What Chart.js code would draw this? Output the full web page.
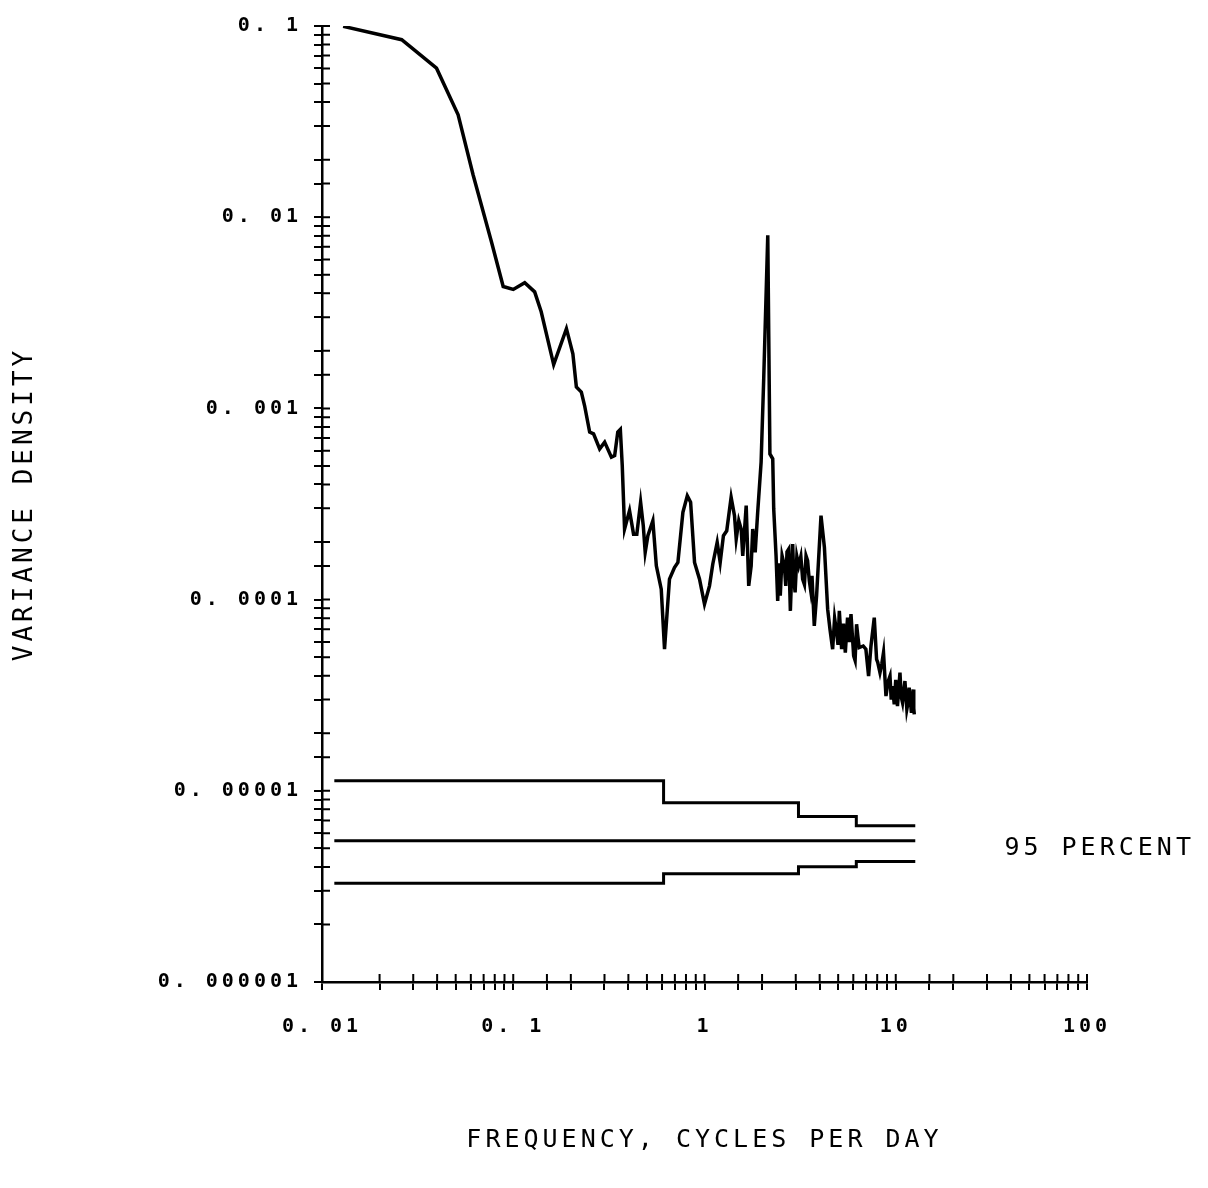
<!DOCTYPE html>
<html>
<head>
<meta charset="utf-8">
<title>Variance density</title>
<script src="https://cdn.jsdelivr.net/npm/chart.js@4.4.0/dist/chart.umd.min.js"></script>
<style>
  html, body { margin: 0; padding: 0; background: #fff; }
  canvas { display: block; }
</style>
</head>
<body>
<canvas id="myChart" width="1208" height="1188"></canvas>
<script>
// spectrum (cycles per day, variance density)
var freq = [
  0.0129, 0.0261, 0.0397, 0.0515, 0.0617, 0.0769, 0.0886, 0.100, 0.1148, 0.1294,
  0.140, 0.1627, 0.1897, 0.205, 0.2138, 0.227, 0.236, 0.2509, 0.263, 0.283,
  0.3006, 0.326, 0.339, 0.352, 0.363, 0.3715, 0.382, 0.4055, 0.4256, 0.4426,
  0.4634, 0.4786, 0.4897, 0.5058, 0.537, 0.560, 0.594, 0.618, 0.656, 0.6966,
  0.726, 0.771, 0.813, 0.846, 0.887, 0.942, 1.0, 1.062, 1.105, 1.165,
  1.208, 1.256, 1.307, 1.378, 1.435, 1.465, 1.511, 1.555, 1.585, 1.652,
  1.703, 1.754, 1.787, 1.841, 1.897, 1.977, 2.04, 2.142, 2.198, 2.274,
  2.301, 2.367, 2.414, 2.45, 2.49, 2.545, 2.617, 2.66, 2.70, 2.755, 2.812, 2.891, 2.93, 2.977, 3.04, 3.108,
  3.19, 3.26, 3.33, 3.396, 3.46, 3.532, 3.59, 3.648, 3.75, 3.855, 4.066, 4.236, 4.405, 4.53,
  4.677, 4.79, 4.909, 4.99, 5.07, 5.212, 5.33, 5.449, 5.598, 5.72, 5.834, 6.025, 6.13, 6.24, 6.34, 6.44,
  6.76, 6.98, 7.21, 7.42, 7.72, 7.94, 8.05, 8.27, 8.45, 8.63, 8.89, 9.1, 9.33,
  9.47, 9.62, 9.82, 10.0, 10.21, 10.52, 10.68, 10.85, 11.17, 11.43, 11.6, 11.75, 12.08, 12.34, 12.42, 12.5
];
var density = [
  0.0996, 0.0848, 0.0602, 0.0343, 0.01663, 0.00744, 0.00434, 0.00419, 0.00454, 0.00407,
  0.00320, 0.001694, 0.002613, 0.001932, 0.001294, 0.001218, 0.001035, 0.000752, 0.000736, 0.000614,
  0.000666, 0.000556, 0.000566, 0.000752, 0.000777, 0.000502, 0.000234, 0.000292, 0.000220, 0.000220,
  0.000323, 0.000243, 0.0001766, 0.000216, 0.0002586, 0.0001503, 0.0001134, 0.0000550, 0.0001279, 0.0001472,
  0.0001565, 0.000286, 0.000349, 0.000323, 0.0001565, 0.0001279, 0.0000946, 0.000118, 0.0001535, 0.0001992,
  0.0001565, 0.000216, 0.000229, 0.000343, 0.000275, 0.0002075, 0.0002586, 0.000234, 0.0001694, 0.00031,
  0.000118, 0.0001503, 0.000234, 0.0001766, 0.000286, 0.000523, 0.001429, 0.00805, 0.000578, 0.000545,
  0.000298, 0.0001694, 0.0000984, 0.000155, 0.000105, 0.0001694, 0.0001503, 0.000118, 0.000178, 0.0001837, 0.0000873, 0.000195, 0.000128, 0.000109, 0.000168, 0.0001503,
  0.000168, 0.0001279, 0.000120, 0.0001694, 0.000160, 0.0001253, 0.000112, 0.000133, 0.0000728, 0.0001045, 0.000275, 0.0001876, 0.0000891, 0.00007,
  0.000055, 0.00008, 0.0000672, 0.000058, 0.0000873, 0.000055, 0.000075, 0.0000528, 0.0000805, 0.00006, 0.0000839, 0.0000507, 0.000048, 0.0000743, 0.000064, 0.0000561,
  0.0000572, 0.000055, 0.0000398, 0.0000572, 0.0000805, 0.0000487, 0.000047, 0.0000415, 0.000046, 0.0000528, 0.0000313, 0.000037, 0.0000398,
  0.00003, 0.0000353, 0.0000283, 0.000038, 0.0000277, 0.0000415, 0.000031, 0.0000289, 0.0000375, 0.0000267, 0.000029, 0.0000346, 0.0000256, 0.0000339, 0.000027, 0.0000251
];

// 95 percent band (step lines)
var bandEdges   = [0.0116, 0.611, 3.10, 6.22, 12.65];
var upperLimit  = [1.13e-5, 8.67e-6, 7.33e-6, 6.57e-6, 6.57e-6];
var centerLevel = [5.48e-6, 5.48e-6, 5.48e-6, 5.48e-6, 5.48e-6];
var lowerLimit  = [3.28e-6, 3.68e-6, 4.01e-6, 4.27e-6, 4.27e-6];

// tick labels
var xTickValues = [0.01, 0.1, 1, 10, 100];
var xTickLabels = ['0. 01', '0. 1', '1', '10', '100'];
var yTickValues = [0.000001, 0.00001, 0.0001, 0.001, 0.01, 0.1];
var yTickLabels = ['0. 000001', '0. 00001', '0. 0001', '0. 001', '0. 01', '0. 1'];

function pairs(xs, ys) {
  return xs.map(function (x, i) { return { x: x, y: ys[i] }; });
}

function labelFor(values, labels) {
  return function (value) {
    for (var i = 0; i < values.length; i++) {
      if (Math.abs(Math.log10(value) - Math.log10(values[i])) < 1e-6) return labels[i];
    }
    return '';
  };
}

Chart.defaults.font.family = "'DejaVu Sans Mono', monospace";
Chart.defaults.color = '#000';

// plotter look: spaced letters, ticks that cross the axes, band label
var plotterPlugin = {
  id: 'plotter',
  beforeDraw: function (chart) {
    chart.ctx.letterSpacing = '4px';
  },
  afterDraw: function (chart) {
    var ctx = chart.ctx;
    var xs = chart.scales.x, ys = chart.scales.y;
    var area = chart.chartArea;
    ctx.save();
    ctx.strokeStyle = '#000';
    ctx.lineWidth = 2;
    ctx.beginPath();
    xs.ticks.forEach(function (t) {
      var px = xs.getPixelForValue(t.value);
      ctx.moveTo(px, area.bottom);
      ctx.lineTo(px, area.bottom - 8);
    });
    ys.ticks.forEach(function (t) {
      var py = ys.getPixelForValue(t.value);
      ctx.moveTo(area.left, py);
      ctx.lineTo(area.left + 8, py);
    });
    ctx.stroke();

    ctx.letterSpacing = '4px';
    ctx.fillStyle = '#000';
    ctx.font = "25px 'DejaVu Sans Mono'";
    ctx.textAlign = 'left';
    ctx.textBaseline = 'middle';
    ctx.fillText('95 PERCENT', xs.getPixelForValue(37), ys.getPixelForValue(centerLevel[0]) + 8);
    ctx.restore();
  }
};

var ctx = document.getElementById('myChart').getContext('2d');
var chart = new Chart(ctx, {
  type: 'line',
  data: {
    datasets: [{
      label: 'spectrum',
      data: pairs(freq, density),
      borderColor: '#000',
      borderWidth: 3.5,
      pointRadius: 0,
      tension: 0
    }, {
      label: 'upper',
      data: pairs(bandEdges, upperLimit),
      borderColor: '#000',
      borderWidth: 3,
      pointRadius: 0,
      stepped: 'before'
    }, {
      label: 'center',
      data: pairs(bandEdges, centerLevel),
      borderColor: '#000',
      borderWidth: 3,
      pointRadius: 0,
      stepped: 'before'
    }, {
      label: 'lower',
      data: pairs(bandEdges, lowerLimit),
      borderColor: '#000',
      borderWidth: 3,
      pointRadius: 0,
      stepped: 'before'
    }]
  },
  options: {
    responsive: false,
    animation: false,
    layout: { padding: { left: 0, right: 121, top: 26, bottom: 0 } },
    plugins: {
      legend: { display: false },
      tooltip: { enabled: false }
    },
    scales: {
      x: {
        type: 'logarithmic',
        min: 0.01,
        max: 100,
        afterFit: function (scale) { scale.height = 206; },
        border: { color: '#000', width: 2.5 },
        grid: { drawOnChartArea: false, color: '#000', lineWidth: 2, tickLength: 8 },
        ticks: {
          autoSkip: false,
          maxRotation: 0,
          padding: 25,
          font: { size: 20, weight: 'bold' },
          callback: labelFor(xTickValues, xTickLabels)
        },
        title: {
          display: true,
          text: 'FREQUENCY, CYCLES PER DAY',
          font: { size: 25 },
          padding: { top: 0, bottom: 33 }
        }
      },
      y: {
        type: 'logarithmic',
        min: 0.000001,
        max: 0.1,
        afterFit: function (scale) { scale.width = 322; },
        border: { color: '#000', width: 2.5 },
        grid: { drawOnChartArea: false, color: '#000', lineWidth: 2, tickLength: 8 },
        ticks: {
          autoSkip: false,
          padding: 12,
          font: { size: 20, weight: 'bold' },
          callback: labelFor(yTickValues, yTickLabels)
        },
        title: {
          display: true,
          text: 'VARIANCE DENSITY',
          font: { size: 26 },
          padding: { top: 10, bottom: 0 }
        }
      }
    }
  },
  plugins: [plotterPlugin]
});
</script>
</body>
</html>
